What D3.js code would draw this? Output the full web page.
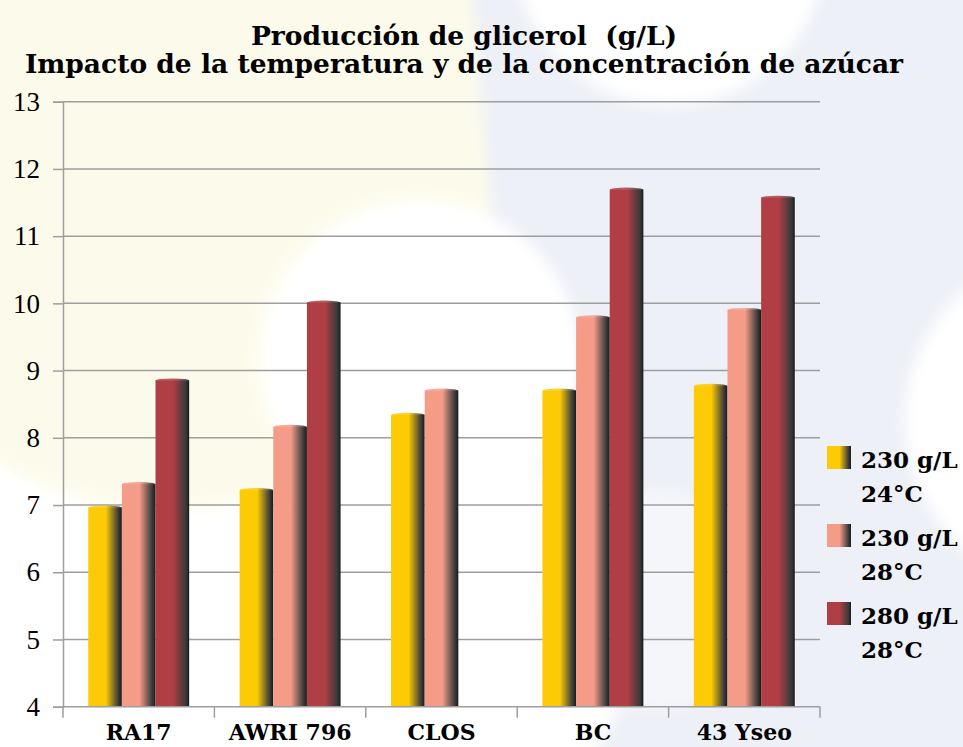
<!DOCTYPE html>
<html>
<head>
<meta charset="utf-8">
<script src="https://cdn.jsdelivr.net/npm/d3@7"></script>
<style>
  body { margin: 0; background: #fff; }
  svg { display: block; }
</style>
</head>
<body>
<div id="chart"></div>
<script>
// data
const categories = ["RA17", "AWRI 796", "CLOS", "BC", "43 Yseo"];
const seriesNames = ["230 g/L|24\u00B0C", "230 g/L|28\u00B0C", "280 g/L|28\u00B0C"];
const s230_24 = [6.96, 7.22, 8.34, 8.70, 8.77];
const s230_28 = [7.31, 8.16, 8.70, 9.79, 9.90];
const s280_28 = [8.85, 10.01, null, 11.69, 11.57];
const yTicks = [4, 5, 6, 7, 8, 9, 10, 11, 12, 13];
const colors = ["#fccb05", "#f59c89", "#b03f45"];

const W = 963, H = 747;
const plot = {left: 63, right: 820, top: 101.7, bottom: 706.7};
const serif = "'DejaVu Serif', serif";

const svg = d3.select("#chart").append("svg")
    .attr("width", W)
    .attr("height", H);

const defs = svg.append("defs");
defs.append("filter").attr("id", "soft")
    .attr("x", "-20%").attr("y", "-20%").attr("width", "140%").attr("height", "140%")
    .append("feGaussianBlur").attr("stdDeviation", 7);

// bar gradients: flat colour then darkening to the right edge
colors.forEach(function (c, i) {
    const g = defs.append("linearGradient")
        .attr("id", "grad" + i)
        .attr("x1", 0).attr("x2", 1).attr("y1", 0).attr("y2", 0);
    g.append("stop").attr("offset", "0%").attr("stop-color", c);
    g.append("stop").attr("offset", "52%").attr("stop-color", c);
    g.append("stop").attr("offset", "90%").attr("stop-color", "#3a3a3a");
    g.append("stop").attr("offset", "100%").attr("stop-color", "#1a1a1a");
});

// faint watermark background
const bg = svg.append("g").attr("filter", "url(#soft)");
bg.append("rect").attr("width", W).attr("height", H).attr("fill", "#ffffff");
bg.append("circle").attr("cx", 170).attr("cy", 170).attr("r", 340).attr("fill", "#fcfbeb");
bg.append("ellipse").attr("cx", 330).attr("cy", 20).attr("rx", 170).attr("ry", 120).attr("fill", "#fcfbeb");
bg.append("path")
    .attr("d", "M470,-20 L990,-20 L990,770 L560,770 C520,600 500,300 470,-20 Z")
    .attr("fill", "#edf0f6");
bg.append("circle").attr("cx", 670).attr("cy", -50).attr("r", 155).attr("fill", "#ffffff");
bg.append("circle").attr("cx", 420).attr("cy", 360).attr("r", 160).attr("fill", "#ffffff");
bg.append("circle").attr("cx", 430).attr("cy", 640).attr("r", 200).attr("fill", "#ffffff");
bg.append("circle").attr("cx", 1075).attr("cy", 420).attr("r", 170).attr("fill", "#ffffff");
bg.append("circle").attr("cx", 660).attr("cy", 600).attr("r", 110).attr("fill", "#f4f6fa");

// scales
const y = d3.scaleLinear().domain([4, 13]).range([plot.bottom, plot.top]);
const x0 = d3.scaleBand().domain(categories).range([plot.left, plot.right]).padding(0);
const bw = x0.bandwidth();
const x1 = d3.scaleBand().domain(seriesNames).range([bw / 6, bw * 5 / 6]).padding(0);

// gridlines
svg.append("g")
    .selectAll("line")
    .data(yTicks.filter(d => d > 4))
    .join("line")
    .attr("x1", plot.left).attr("x2", plot.right)
    .attr("y1", d => y(d)).attr("y2", d => y(d))
    .attr("stroke", "#9e9e9e")
    .attr("stroke-width", 1.5);

// y axis
const yAxis = svg.append("g")
    .attr("transform", `translate(${plot.left},0)`)
    .call(d3.axisLeft(y).tickValues(yTicks).tickSize(10).tickPadding(13));
yAxis.select(".domain").attr("stroke", "#9e9e9e").attr("stroke-width", 1.5);
yAxis.selectAll(".tick line").attr("stroke", "#9e9e9e").attr("stroke-width", 1.5);
yAxis.selectAll(".tick text")
    .attr("fill", "#000")
    .style("font-family", "'Liberation Serif', serif")
    .style("font-size", "27px");

// bars
const table = categories.map((c, i) => ({
    cat: c,
    vals: [s230_24[i], s230_28[i], s280_28[i]]
}));

const groups = svg.append("g")
    .selectAll("g")
    .data(table)
    .join("g")
    .attr("transform", d => `translate(${x0(d.cat)},0)`);

const bars = groups.selectAll("g.bar")
    .data(d => d.vals.map((v, k) => ({v: v, k: k})).filter(e => e.v != null))
    .join("g")
    .attr("class", "bar");

bars.append("rect")
    .attr("x", d => x1(seriesNames[d.k]))
    .attr("width", x1.bandwidth())
    .attr("y", d => y(d.v))
    .attr("height", d => y(4) - y(d.v))
    .attr("fill", d => `url(#grad${d.k})`);

// cylinder cap
bars.append("ellipse")
    .attr("cx", d => x1(seriesNames[d.k]) + x1.bandwidth() / 2)
    .attr("cy", d => y(d.v))
    .attr("rx", x1.bandwidth() / 2)
    .attr("ry", 2.2)
    .attr("fill", d => `url(#grad${d.k})`)
    .attr("opacity", 0.85);

// x axis
const xg = svg.append("g");
xg.append("line")
    .attr("x1", plot.left).attr("x2", plot.right)
    .attr("y1", plot.bottom).attr("y2", plot.bottom)
    .attr("stroke", "#9e9e9e").attr("stroke-width", 1.5);
xg.selectAll("line.tick")
    .data(categories.map(c => x0(c)).concat([plot.right]))
    .join("line")
    .attr("class", "tick")
    .attr("x1", d => d).attr("x2", d => d)
    .attr("y1", plot.bottom).attr("y2", plot.bottom + 11)
    .attr("stroke", "#9e9e9e").attr("stroke-width", 1.5);
xg.selectAll("text")
    .data(categories)
    .join("text")
    .attr("x", d => x0(d) + bw / 2)
    .attr("y", 740)
    .attr("text-anchor", "middle")
    .style("font-family", serif)
    .style("font-weight", "bold")
    .style("font-size", "22px")
    .text(d => d);

// title
const title = svg.append("g")
    .attr("text-anchor", "middle")
    .style("font-family", serif)
    .style("font-weight", "bold")
    .style("font-size", "26.5px");
title.append("text").attr("x", 464).attr("y", 45)
    .attr("xml:space", "preserve")
    .text("Producci\u00F3n de glicerol  (g/L)");
title.append("text").attr("x", 464).attr("y", 73)
    .text("Impacto de la temperatura y de la concentraci\u00F3n de az\u00FAcar");

// legend
const legend = svg.append("g")
    .selectAll("g")
    .data(seriesNames)
    .join("g")
    .attr("transform", (d, i) => `translate(827,${446 + i * 78})`);
legend.append("rect")
    .attr("width", 24).attr("height", 23)
    .attr("fill", (d, i) => `url(#grad${i})`);
legend.append("text")
    .style("font-family", serif)
    .style("font-weight", "bold")
    .style("font-size", "23px")
    .selectAll("tspan")
    .data(d => d.split("|"))
    .join("tspan")
    .attr("x", 34)
    .attr("y", (d, j) => 22 + j * 34)
    .text(d => d);
</script>
</body>
</html>
